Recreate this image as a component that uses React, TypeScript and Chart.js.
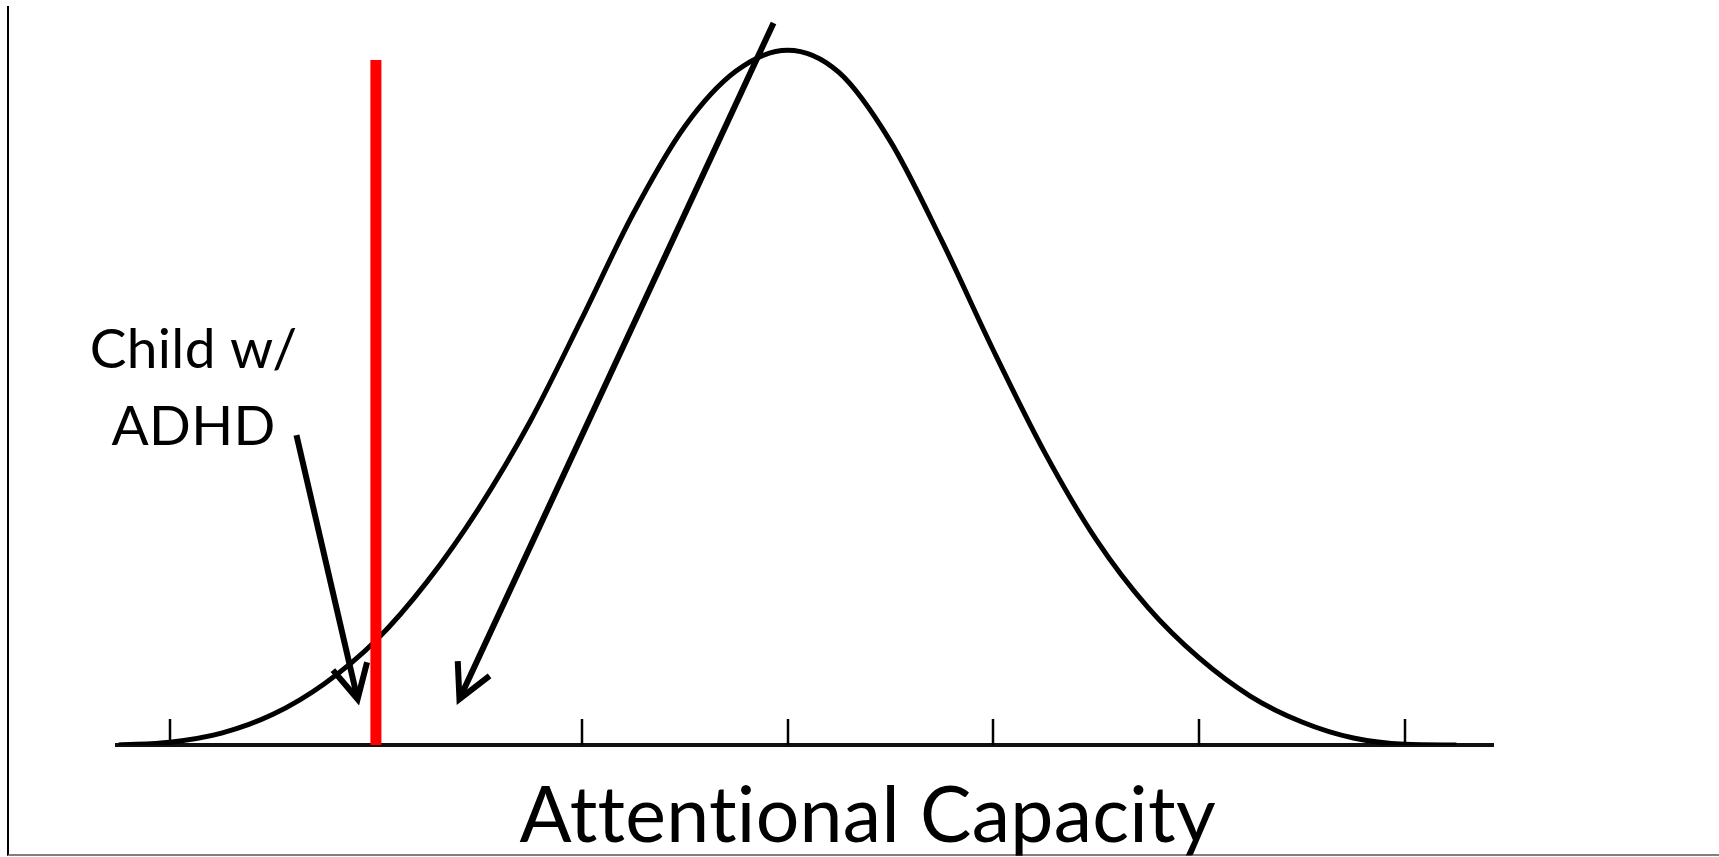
import React, { useEffect, useRef } from "react";
import { Chart, registerables } from "chart.js";

Chart.register(...registerables);

// Curve: position in standard deviations, height relative to the peak
const curveX = [-3.25, -3.0, -2.75, -2.5, -2.25, -2.0, -1.75, -1.5, -1.25, -1.0, -0.75, -0.5, -0.25, 0, 0.25, 0.5, 0.75, 1.0, 1.25, 1.5, 1.75, 2.0, 2.25, 2.5, 2.75, 3.0, 3.25];
const curveY = [0.0, 0.004, 0.017, 0.044, 0.088, 0.15, 0.235, 0.34, 0.465, 0.612, 0.763, 0.888, 0.968, 0.998, 0.966, 0.867, 0.724, 0.567, 0.42, 0.295, 0.198, 0.125, 0.07, 0.033, 0.01, 0.001, 0.0];

const tickValues = [-3, -2, -1, 0, 1, 2, 3];

const cutoffX = -2;
const cutoffTop = 0.984;

const arrowStartX = [-2.386, -0.068];
const arrowStartY = [0.445, 1.037];
const arrowEndX = [-2.089, -1.594];
const arrowEndY = [0.066, 0.066];

const labelLines = ["Child w/", "ADHD"];
const labelX = -2.886;
const labelY = 0.542;

const axisTitle = "Attentional Capacity";
const axisTitleX = 0.39;

const xMin = -3.258;
const xMax = 3.428;
const yMax = 1.06;

const overlayPlugin = {
  id: "overlay",
  beforeDatasetsDraw(chart: any) {
    const { ctx, scales } = chart;
    const x = scales.x;
    const y = scales.y;
    const y0 = y.getPixelForValue(0);
    ctx.save();
    ctx.strokeStyle = "#000";
    ctx.lineWidth = 2.5;
    tickValues.forEach((t) => {
      const px = Math.round(x.getPixelForValue(t));
      ctx.beginPath();
      ctx.moveTo(px, y0);
      ctx.lineTo(px, y0 - 26);
      ctx.stroke();
    });
    ctx.restore();
  },
  afterDatasetsDraw(chart: any) {
    const { ctx, scales } = chart;
    const x = scales.x;
    const y = scales.y;
    ctx.save();
    ctx.strokeStyle = "#000";
    ctx.lineWidth = 6;
    ctx.lineCap = "butt";
    ctx.lineJoin = "miter";
    for (let i = 0; i < arrowStartX.length; i++) {
      const sx = x.getPixelForValue(arrowStartX[i]);
      const sy = y.getPixelForValue(arrowStartY[i]);
      const ex = x.getPixelForValue(arrowEndX[i]);
      const ey = y.getPixelForValue(arrowEndY[i]);
      const ang = Math.atan2(sy - ey, sx - ex);
      const len = 38;
      const spread = (27.5 * Math.PI) / 180;
      ctx.beginPath();
      ctx.moveTo(sx, sy);
      ctx.lineTo(ex + 3 * Math.cos(ang), ey + 3 * Math.sin(ang));
      ctx.stroke();
      ctx.beginPath();
      ctx.moveTo(ex + len * Math.cos(ang - spread), ey + len * Math.sin(ang - spread));
      ctx.lineTo(ex, ey);
      ctx.lineTo(ex + len * Math.cos(ang + spread), ey + len * Math.sin(ang + spread));
      ctx.stroke();
    }
    ctx.fillStyle = "#000";
    ctx.textAlign = "center";
    ctx.textBaseline = "alphabetic";
    try {
      (ctx as any).letterSpacing = "0.3px";
    } catch (e) {}
    ctx.font = "55px Lato";
    const lx = x.getPixelForValue(labelX);
    const ly = y.getPixelForValue(labelY);
    labelLines.forEach((line, i) => {
      ctx.fillText(line, lx, ly + i * 77);
    });
    ctx.font = "77px Lato";
    const tx = x.getPixelForValue(axisTitleX);
    ctx.fillText(axisTitle, tx, y.getPixelForValue(0) + 97);
    ctx.restore();
  },
};

export default function App() {
  const canvasRef = useRef<HTMLCanvasElement | null>(null);

  useEffect(() => {
    const canvas = canvasRef.current;
    if (!canvas) return;
    const chart = new Chart(canvas, {
      type: "line",
      data: {
        datasets: [
          {
            label: "cutoff",
            data: [
              { x: cutoffX, y: 0 },
              { x: cutoffX, y: cutoffTop },
            ],
            borderColor: "#ff0000",
            borderWidth: 11,
            borderCapStyle: "butt",
            pointRadius: 0,
            fill: false,
          },
          {
            label: "distribution",
            data: curveX.map((v, i) => ({ x: v, y: curveY[i] })),
            borderColor: "#000",
            borderWidth: 5,
            pointRadius: 0,
            cubicInterpolationMode: "monotone",
            fill: false,
          },
        ],
      },
      options: {
        animation: false,
        responsive: false,
        maintainAspectRatio: false,
        devicePixelRatio: 1,
        layout: { padding: { left: 117, right: 226, top: 7, bottom: 112 } },
        plugins: { legend: { display: false }, tooltip: { enabled: false } },
        events: [],
        scales: {
          x: {
            type: "linear",
            min: xMin,
            max: xMax,
            grid: { display: false, drawTicks: false },
            border: { display: true, color: "#111", width: 4 },
            ticks: { display: false },
            title: { display: false, text: axisTitle },
          },
          y: {
            display: false,
            min: 0,
            max: yMax,
          },
        },
      },
      plugins: [overlayPlugin],
    });
    return () => chart.destroy();
  }, []);

  return (
    <div
      style={{
        position: "fixed",
        left: 0,
        top: 0,
        width: 1719,
        height: 857,
        background: "#fff",
        overflow: "hidden",
      }}
    >
      <div
        style={{
          position: "absolute",
          left: 7,
          top: 6,
          right: 0,
          bottom: 1,
          borderLeft: "2px solid #000",
          borderBottom: "2px solid #808080",
        }}
      />
      <canvas
        ref={canvasRef}
        width={1719}
        height={857}
        style={{ position: "absolute", left: 0, top: 0, width: 1719, height: 857 }}
      />
    </div>
  );
}
